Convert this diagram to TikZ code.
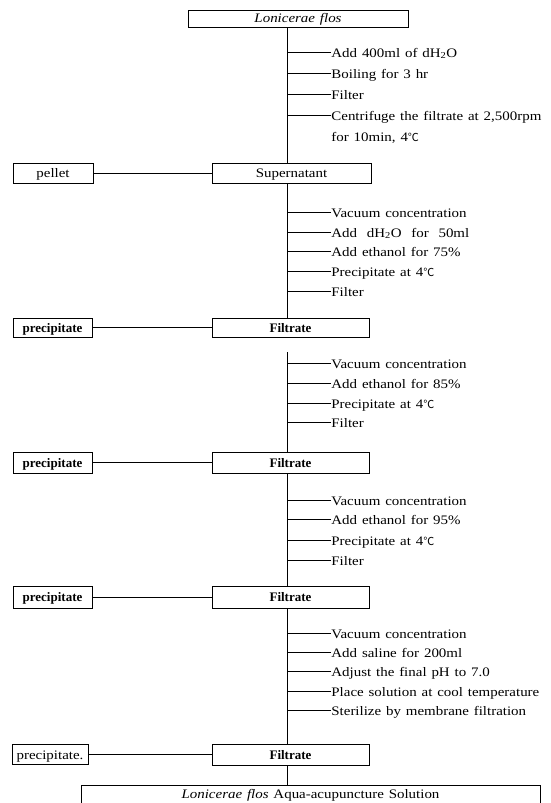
\documentclass[tikz,border=0pt]{standalone}
\usepackage{fontspec}
\setmainfont{Liberation Serif}[FakeStretch=1.15,WordSpace=1.3]
\newfontfamily\boldser{Liberation Serif}
\newfontfamily\cjkf{Noto Sans CJK SC}
\newcommand{\myDegC}{{\cjkf\fontsize{11}{13}\selectfont ℃}}
\begin{document}
\begin{tikzpicture}[x=1pt,y=-1pt,line width=0.8pt,
  box/.style={draw,rectangle,inner sep=0pt,minimum height=20pt,text height=9pt,text depth=0pt,font=\fontsize{13}{15}\selectfont},
  bbox/.style={box,font=\boldser\bfseries\fontsize{13}{15}\selectfont},
  stxt/.style={anchor=west,inner sep=0pt,text height=11pt,text depth=1pt,font=\fontsize{13}{15}\selectfont}]
\useasboundingbox (0,0) rectangle (551,803);
\coordinate (tr) at (287,0);
% boxes
\node[box,minimum width=220pt,minimum height=17pt] (top) at (298,18.5) {\itshape Lonicerae flos};
\node[box,minimum width=159pt] (sup) at (291.5,173) {Supernatant};
\node[box,minimum width=80pt] (pel) at (53,173) {pellet};
\node[bbox,minimum width=157pt,minimum height=19pt] (f1) at (290.5,327.5) {Filtrate};
\node[bbox,minimum width=79pt,minimum height=19pt] (p1) at (52.5,327.5) {precipitate};
\node[bbox,minimum width=157pt,minimum height=21pt] (f2) at (290.5,462.5) {Filtrate};
\node[bbox,minimum width=79pt,minimum height=21pt] (p2) at (52.5,462.5) {precipitate};
\node[bbox,minimum width=157pt,minimum height=22pt] (f3) at (290.5,597) {Filtrate};
\node[bbox,minimum width=79pt,minimum height=22pt] (p3) at (52.5,597) {precipitate};
\node[bbox,minimum width=157pt,minimum height=21pt] (f4) at (290.5,754.5) {Filtrate};
\node[box,minimum width=76pt,minimum height=20pt] (p4) at (50,754.5) {precipitate.};
\node[box,anchor=north,minimum width=459pt,minimum height=22pt,text height=9pt,text depth=4pt] (fin) at (310.5,785) {\textit{Lonicerae flos} Aqua-acupuncture Solution};
% trunk
\coordinate (g3) at (287,352);
\draw (top.south -| tr) -- (sup.north -| tr);
\draw (sup.south -| tr) -- (f1.north -| tr);
\draw (g3) -- (f2.north -| tr);
\draw (f2.south -| tr) -- (f3.north -| tr);
\draw (f3.south -| tr) -- (f4.north -| tr);
\draw (f4.south -| tr) -- (fin.north -| tr);
% side connectors
\draw (pel) -- (sup);
\draw (p1) -- (f1);
\draw (p2) -- (f2);
\draw (p3) -- (f3);
\draw (p4) -- (f4);
% section 1
\node[stxt] (a1) at (331,52) {Add 400ml of dH\textsubscript{2}O};
\node[stxt] (a2) at (331,73) {Boiling for 3 hr};
\node[stxt] (a3) at (331,94) {Filter};
\node[stxt] (a4) at (331,115) {Centrifuge the filtrate at 2,500rpm};
\node[stxt] (a5) at (331,136) {for 10min, 4\myDegC};
\foreach \n in {a1,a2,a3,a4} \draw (\n.west) -- (\n.west -| tr);
% section 2
\node[stxt] (b1) at (331,212) {Vacuum concentration};
\node[stxt] (b2) at (331,232) {Add \ dH\textsubscript{2}O \ for \ 50ml};
\node[stxt] (b3) at (331,251) {Add ethanol for 75\%};
\node[stxt] (b4) at (331,271) {Precipitate at 4\myDegC};
\node[stxt] (b5) at (331,291) {Filter};
\foreach \n in {b1,b2,b3,b4,b5} \draw (\n.west) -- (\n.west -| tr);
% section 3
\node[stxt] (c1) at (331,363) {Vacuum concentration};
\node[stxt] (c2) at (331,383) {Add ethanol for 85\%};
\node[stxt] (c3) at (331,403) {Precipitate at 4\myDegC};
\node[stxt] (c4) at (331,422) {Filter};
\foreach \n in {c1,c2,c3,c4} \draw (\n.west) -- (\n.west -| tr);
% section 4
\node[stxt] (d1) at (331,500) {Vacuum concentration};
\node[stxt] (d2) at (331,519) {Add ethanol for 95\%};
\node[stxt] (d3) at (331,540) {Precipitate at 4\myDegC};
\node[stxt] (d4) at (331,560) {Filter};
\foreach \n in {d1,d2,d3,d4} \draw (\n.west) -- (\n.west -| tr);
% section 5
\node[stxt] (e1) at (331,633) {Vacuum concentration};
\node[stxt] (e2) at (331,652) {Add saline for 200ml};
\node[stxt] (e3) at (331,671) {Adjust the final pH to 7.0};
\node[stxt] (e4) at (331,691) {Place solution at cool temperature};
\node[stxt] (e5) at (331,710) {Sterilize by membrane filtration};
\foreach \n in {e1,e2,e3,e4,e5} \draw (\n.west) -- (\n.west -| tr);
\end{tikzpicture}
\end{document}
